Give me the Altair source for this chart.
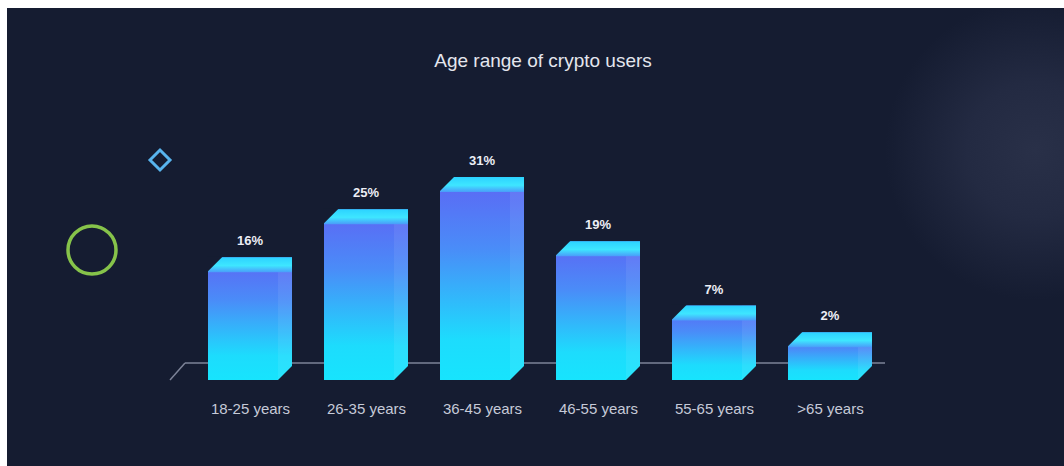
import altair as alt
import pandas as pd

categories = ["18-25 years", "26-35 years", "36-45 years", "46-55 years", "55-65 years", ">65 years"]
values = [16, 25, 31, 19, 7, 2]
value_labels = ["16%", "25%", "31%", "19%", "7%", "2%"]
title_text = "Age range of crypto users"

W, H = 1064, 466
BG = "#151c31"
BASE_Y = 380
BAR_W = 84
CH = 15  # chamfer / top face depth

df = pd.DataFrame({"cat": categories, "v": values, "lab": value_labels})
one = pd.DataFrame({"a": [0]})

xs = alt.X("cat:N", sort=categories,
           scale=alt.Scale(type="point", range=[250, 830], padding=0),
           axis=alt.Axis(title=None, domain=False, ticks=False, grid=False, zindex=1,
                         labelColor="#c6cad8", labelFontSize=15, labelFont="Liberation Sans",
                         labelPadding=0, labelBaseline="middle", offset=-58, labelAngle=0))
ys = alt.Y("v:Q", scale=alt.Scale(domain=[0, 31], range=[343, 177], zero=False, nice=False), axis=None)

# background panel
panel = alt.Chart(one).mark_rect(fill=BG).encode(
    x=alt.value(0), x2=alt.value(W), y=alt.value(0), y2=alt.value(H))

glow = alt.Chart(one).mark_point(
    shape="circle", filled=True, opacity=1, size=300 * 300, strokeWidth=0,
    fill=alt.RadialGradient(gradient="radial",
                            stops=[alt.GradientStop(color="#293048", offset=0),
                                   alt.GradientStop(color="#232a42", offset=0.45),
                                   alt.GradientStop(color=BG, offset=1)],
                            x1=0.5, y1=0.5, r1=0, x2=0.5, y2=0.5, r2=0.5)
).encode(x=alt.value(1035), y=alt.value(150))

border_top = alt.Chart(one).mark_rect(fill="white").encode(
    x=alt.value(0), x2=alt.value(W), y=alt.value(0), y2=alt.value(8))
border_left = alt.Chart(one).mark_rect(fill="white").encode(
    x=alt.value(0), x2=alt.value(7), y=alt.value(0), y2=alt.value(H))

diamond = alt.Chart(one).mark_point(shape="diamond", filled=False, size=400,
                                    stroke="#58b4ee", strokeWidth=3, opacity=1).encode(
    x=alt.value(160), y=alt.value(160))
circle = alt.Chart(one).mark_point(shape="circle", filled=False, size=48 * 48,
                                   stroke="#86c34a", strokeWidth=3.5, opacity=1).encode(
    x=alt.value(92), y=alt.value(250))

base_line = alt.Chart(one).mark_rule(color="#7d8398", strokeWidth=1.5).encode(
    x=alt.value(185), x2=alt.value(885), y=alt.value(363))
base_diag = alt.Chart(one).mark_rule(color="#7d8398", strokeWidth=1.5).encode(
    x=alt.value(170), x2=alt.value(185), y=alt.value(380), y2=alt.value(363))

body = alt.Chart(df).mark_rect(
    width=BAR_W,
    fill=alt.LinearGradient(gradient="linear",
                            stops=[alt.GradientStop(color="#5d66f4", offset=0),
                                   alt.GradientStop(color="#4a8cf8", offset=0.35),
                                   alt.GradientStop(color="#1ddcfd", offset=0.8),
                                   alt.GradientStop(color="#17e4fd", offset=1)],
                            x1=0, x2=0, y1=0, y2=1)
).encode(x=xs, y=ys, y2=alt.value(BASE_Y))

side = alt.Chart(df).mark_rect(width=14, xOffset=35, fill="#ffffff", opacity=0.07).encode(
    x=xs, y=ys, y2=alt.value(BASE_Y))

top = alt.Chart(df).mark_rect(
    width=BAR_W, y2Offset=CH,
    fill=alt.LinearGradient(gradient="linear",
                            stops=[alt.GradientStop(color="#2cd2ff", offset=0),
                                   alt.GradientStop(color="#3ee6ff", offset=0.55),
                                   alt.GradientStop(color="#4a9cf9", offset=1)],
                            x1=0, x2=0, y1=0, y2=1)
).encode(x=xs, y=ys, y2="v:Q")

cut_tl = alt.Chart(df).mark_point(
    shape="M -1 -1 L 1 -1 L -1 1 Z", filled=True, fill=BG, opacity=1, size=(CH + 1) ** 2,
    xOffset=-(BAR_W / 2) + CH / 2 - 0.5, yOffset=CH / 2 - 0.5, strokeWidth=0
).encode(x=xs, y=ys)

cut_br = alt.Chart(df).mark_point(
    shape="M 1 1 L 1 -1 L -1 1 Z", filled=True, fill=BG, opacity=1, size=(CH + 1) ** 2,
    xOffset=(BAR_W / 2) - CH / 2 + 0.5, strokeWidth=0
).encode(x=xs, y=alt.value(BASE_Y - CH / 2 + 0.5))

labels = alt.Chart(df).mark_text(
    dy=-16, fontSize=13, fontWeight="bold", color="#eceef5", font="Liberation Sans", baseline="middle"
).encode(x=xs, y=ys, text="lab:N")

title = alt.Chart(one).mark_text(
    fontSize=19, color="#e4e6ee", font="Liberation Sans", baseline="middle", align="center"
).encode(x=alt.value(543), y=alt.value(61), text=alt.value(title_text))

chart = alt.layer(
    panel, glow, border_top, border_left, diamond, circle, base_line, base_diag,
    body, side, top, cut_tl, cut_br, labels, title
).properties(
    width=W, height=H, background="white", padding=0,
    autosize=alt.AutoSizeParams(type="none")
).configure_view(stroke=None)

chart.save("out.html", embed_options={"renderer": "svg", "actions": False})
